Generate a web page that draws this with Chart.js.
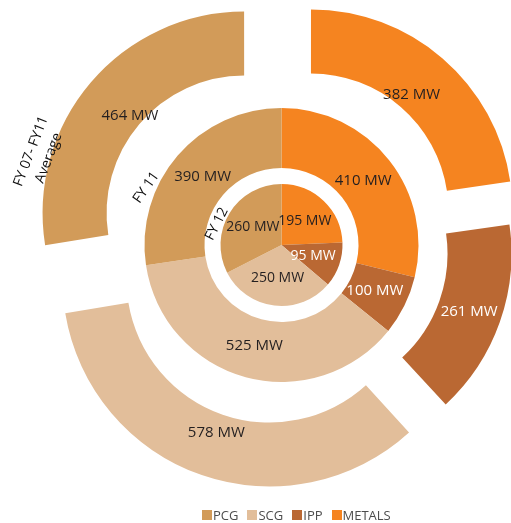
<!DOCTYPE html>
<html>
<head>
<meta charset="utf-8">
<script src="https://cdn.jsdelivr.net/npm/chart.js@4.4.0/dist/chart.umd.min.js"></script>
<style>
  body { margin: 0; background: #fff; }
  #wrap { position: relative; width: 511px; height: 523px; }
  #legend {
    position: absolute; left: 202px; top: 507px;
    display: flex; gap: 9px;
    font: 13px "Open Sans", sans-serif; color: #4d4d4d; line-height: 16px;
  }
  #legend span.item { display: flex; align-items: center; }
  #legend i { display: inline-block; width: 10px; height: 10px; margin-right: 1px; }
</style>
</head>
<body>
<div id="wrap">
  <canvas id="chart" width="511" height="523"></canvas>
  <div id="legend"></div>
</div>
<script>
// categories in legend order
const categories = ["PCG", "SCG", "IPP", "METALS"];
const colors = ["#D29B59", "#E2BE9A", "#BA6833", "#F58420"];

// MW per category, one array per ring
const fy12 = [260, 250, 95, 195];
const fy11 = [390, 525, 100, 410];
const fy07to11Avg = [464, 578, 261, 382];

const unit = " MW";

// slices run clockwise from 12 o'clock starting with METALS
const order = [3, 2, 1, 0];
const pick = arr => order.map(i => arr[i]);
const drawnCats = pick(categories);

const sliceLabels = {
  id: "sliceLabels",
  afterDatasetsDraw(chart) {
    const ctx = chart.ctx;
    ctx.save();
    ctx.textAlign = "center";
    ctx.textBaseline = "middle";
    let cx = 0, cy = 0;
    chart.data.datasets.forEach((ds, di) => {
      if (!ds.labelPos) return;
      chart.getDatasetMeta(di).data.forEach((arc, i) => {
        const p = arc.getProps(["x", "y", "startAngle", "endAngle", "innerRadius", "outerRadius"], true);
        cx = p.x; cy = p.y;
        const mid = (p.startAngle + p.endAngle) / 2;
        const r = p.innerRadius + (p.outerRadius - p.innerRadius) * ds.labelPos;
        ctx.font = ds.labelFont;
        ctx.fillStyle = drawnCats[i] === "IPP" ? "#ffffff" : "#231f20";
        ctx.fillText(ds.data[i] + unit, p.x + Math.cos(mid) * r, p.y + Math.sin(mid) * r);
      });
    });

    // ring titles, written along the white gaps on the left
    const title = (lines, radius, deg, rot) => {
      const a = (deg - 90) * Math.PI / 180;
      ctx.save();
      ctx.translate(cx + Math.cos(a) * radius, cy + Math.sin(a) * radius);
      ctx.rotate(rot * Math.PI / 180);
      ctx.font = "14px 'Open Sans', sans-serif";
      ctx.fillStyle = "#111";
      lines.forEach((t, k) => ctx.fillText(t, 0, (k - (lines.length - 1) / 2) * 19));
      ctx.restore();
    };
    title(["FY 12"], 68, 288, -63);
    title(["FY 11"], 147, 293, -55);
    title(["FY 07- FY11", "Average"], 258, 290.5, -69);
    ctx.restore();
  }
};

new Chart(document.getElementById("chart"), {
  type: "doughnut",
  data: {
    labels: drawnCats,
    datasets: [
      {
        label: "FY 07- FY11 Average",
        data: pick(fy07to11Avg),
        backgroundColor: pick(colors),
        weight: 64,
        offset: [180, 104, 146, 196],
        labelPos: 0.97,
        labelFont: "15px 'Open Sans', sans-serif",
        clip: false
      },
      {
        label: "FY 11",
        data: pick(fy11),
        backgroundColor: pick(colors),
        weight: 60,
        labelPos: 0.45,
        labelFont: "15px 'Open Sans', sans-serif",
        clip: false
      },
      {
        label: "",
        data: [1],
        backgroundColor: "rgba(0,0,0,0)",
        weight: 16,
        clip: false
      },
      {
        label: "FY 12",
        data: pick(fy12),
        backgroundColor: pick(colors),
        weight: 61,
        labelPos: 0.55,
        labelFont: "14px 'Open Sans', sans-serif",
        clip: false
      }
    ]
  },
  options: {
    responsive: false,
    animation: false,
    radius: 201,
    cutout: 0,
    layout: { padding: { left: 52, right: 0, top: 0, bottom: 33 } },
    elements: { arc: { borderWidth: 0, hoverOffset: 0 } },
    plugins: { legend: { display: false }, tooltip: { enabled: false } }
  },
  plugins: [sliceLabels]
});

const legend = document.getElementById("legend");
categories.forEach((c, i) => {
  const item = document.createElement("span");
  item.className = "item";
  item.innerHTML = `<i style="background:${colors[i]}"></i>${c}`;
  legend.appendChild(item);
});
</script>
</body>
</html>
